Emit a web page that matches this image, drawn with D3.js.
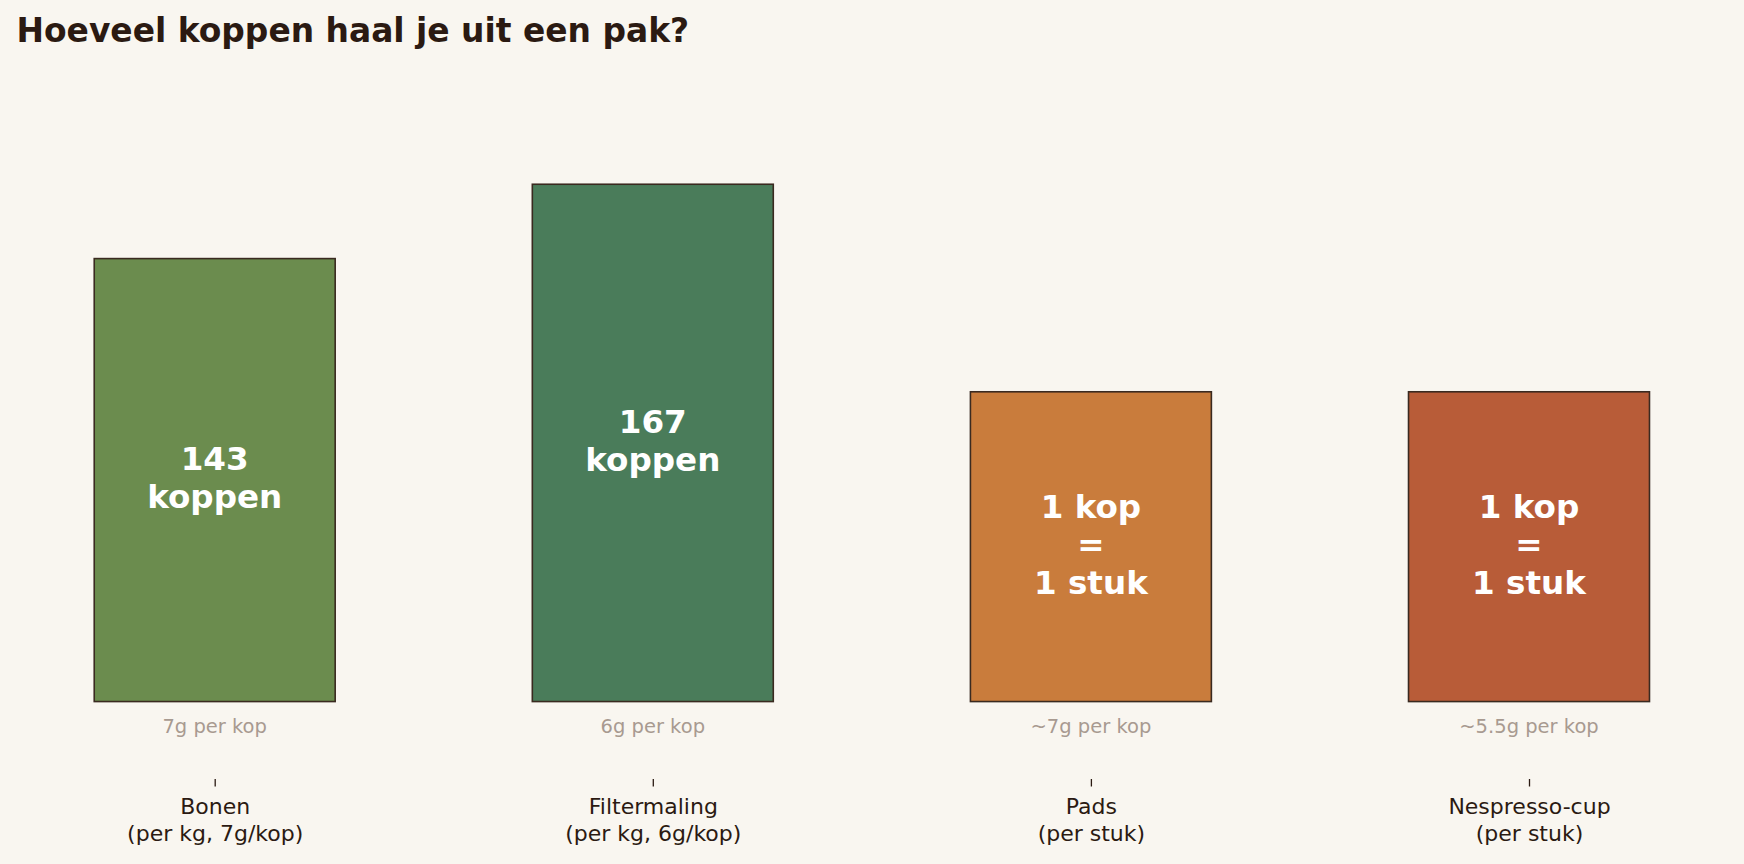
<!DOCTYPE html>
<html>
<head>
<meta charset="utf-8">
<script src="https://cdn.jsdelivr.net/npm/d3@7"></script>
<style>
  html, body { margin: 0; padding: 0; background: #f9f6f0; }
  svg { display: block; font-family: "DejaVu Sans", sans-serif; }
</style>
</head>
<body>
<div id="chart"></div>
<script>
// data
const categories = ['Bonen', 'Filtermaling', 'Pads', 'Nespresso-cup'];
const categoryNotes = ['(per kg, 7g/kop)', '(per kg, 6g/kop)', '(per stuk)', '(per stuk)'];
const cupsPerPack = [143, 167, 100, 100];
const barTexts = [
    ['143', 'koppen'],
    ['167', 'koppen'],
    ['1 kop', '=', '1 stuk'],
    ['1 kop', '=', '1 stuk']
];
const gramsPerCup = ['7g per kop', '6g per kop', '~7g per kop', '~5.5g per kop'];

const palette = ['#6b8c4e', '#4a7c5a', '#c97c3c', '#b85c38'];

const width = 1744, height = 864;
const ink = '#2b1a12';

const svg = d3.select('#chart')
    .append('svg')
    .attr('width', width)
    .attr('height', height)
    .style('background', '#f9f6f0');

// title
svg.append('text')
    .attr('x', 16.5)
    .attr('y', 41.5)
    .attr('fill', ink)
    .attr('font-size', 32.9)
    .attr('font-weight', 'bold')
    .text('Hoeveel koppen haal je uit een pak?');

//scales
const x = d3.scalePoint()
    .domain(categories)
    .range([214.7, 1529]);
const barW = 0.55 * x.step();

const y = d3.scaleLinear()
    .domain([-25, 190])
    .range([779, 113]);

const rows = categories.map((c, i) => ({
    cat: c,
    note: categoryNotes[i],
    value: cupsPerPack[i],
    text: barTexts[i],
    grams: gramsPerCup[i],
    color: palette[i]
}));

// bars
svg.selectAll('rect.bar')
    .data(rows)
    .join('rect')
    .attr('class', 'bar')
    .attr('x', d => x(d.cat) - barW / 2)
    .attr('y', d => y(d.value))
    .attr('width', barW)
    .attr('height', d => y(0) - y(d.value))
    .attr('fill', d => d.color)
    .attr('stroke', '#3a2a20')
    .attr('stroke-width', 1.6);

// labels inside the bars, centered vertically
const lh = 38;
svg.selectAll('text.inbar')
    .data(rows)
    .join('text')
    .attr('class', 'inbar')
    .attr('text-anchor', 'middle')
    .attr('fill', 'white')
    .attr('font-size', 32.6)
    .attr('font-weight', 'bold')
    .each(function(d) {
        const mid = (y(0) + y(d.value)) / 2 - 2.5;
        const n = d.text.length;
        d3.select(this).selectAll('tspan')
            .data(d.text)
            .join('tspan')
            .attr('x', x(d.cat))
            .attr('y', (t, i) => mid + (i - (n - 1) / 2) * lh)
            .attr('dy', '0.36em')
            .text(t => t);
    });

// grams per cup under each bar
svg.selectAll('text.grams')
    .data(rows)
    .join('text')
    .attr('class', 'grams')
    .attr('x', d => x(d.cat))
    .attr('y', y(0) + 24)
    .attr('dy', '0.36em')
    .attr('text-anchor', 'middle')
    .attr('fill', '#a89a90')
    .attr('font-size', 19.5)
    .text(d => d.grams);

// x axis (no domain line)
const axis = svg.append('g')
    .attr('transform', `translate(0,${y(-25)})`)
    .call(d3.axisBottom(x).tickSize(7.5).tickPadding(0).tickFormat(''))
    .attr('font-family', 'DejaVu Sans, sans-serif');
axis.select('.domain').remove();
axis.selectAll('.tick line').attr('stroke', ink).attr('stroke-width', 1.3);

axis.selectAll('.tick').each(function(c, i) {
    const t = d3.select(this).append('text')
        .attr('fill', ink)
        .attr('font-size', 22)
        .attr('text-anchor', 'middle');
    t.append('tspan').attr('x', 0).attr('y', 27).attr('dy', '0.36em').text(c);
    t.append('tspan').attr('x', 0).attr('y', 54).attr('dy', '0.36em').text(categoryNotes[i]);
});
</script>
</body>
</html>
